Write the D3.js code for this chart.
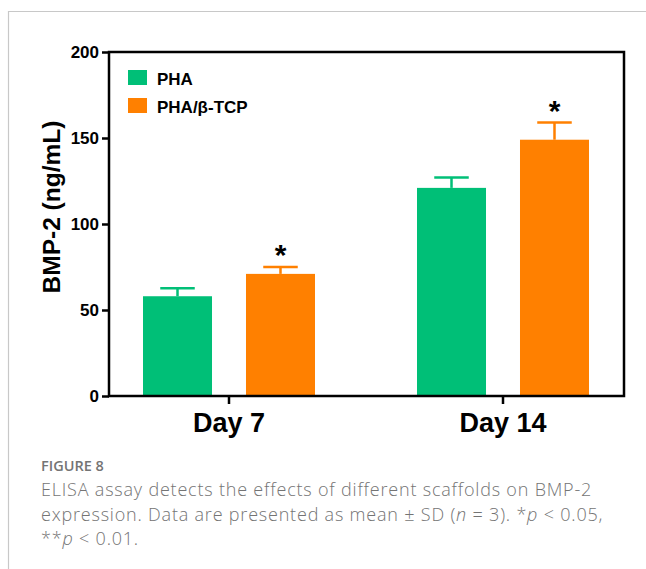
<!DOCTYPE html>
<html>
<head>
<meta charset="utf-8">
<script src="https://cdn.jsdelivr.net/npm/d3@7"></script>
<style>
  body { margin: 0; background: #fff; }
  svg text { font-family: "Liberation Sans", Arial, sans-serif; }
  .caption text { font-family: "Open Sans", sans-serif; }
</style>
</head>
<body>
<div id="container"></div>
<script>
/* DATA */
const days = ["Day 7", "Day 14"],
  groups = ["PHA", "PHA/β-TCP"],
  phaMean = [58, 121],
  phaSD = [4.7, 6],
  tcpMean = [71, 149],
  tcpSD = [4, 10],
  signif = ["*", "*"],
  yTicks = [0, 50, 100, 150, 200];

/* CONSTANTS */
const width = 646,
  height = 569,
  plotLeft = 109, plotRight = 624,
  plotTop = 52, plotBottom = 396;

const colors = { "PHA": "#00bf77", "PHA/β-TCP": "#ff8000" };

const data = days.flatMap((d, i) => [
  { day: d, group: groups[0], mean: phaMean[i], sd: phaSD[i], star: "" },
  { day: d, group: groups[1], mean: tcpMean[i], sd: tcpSD[i], star: signif[i] }
]);

const svg = d3.select("#container")
  .append("svg")
  .attr("width", width)
  .attr("height", height);

// card border
svg.append("line").attr("x1", 8).attr("x2", width).attr("y1", 11.5).attr("y2", 11.5)
  .attr("stroke", "#c8c8c8").attr("stroke-width", 1.2);
svg.append("line").attr("x1", 8.5).attr("x2", 8.5).attr("y1", 11).attr("y2", height)
  .attr("stroke", "#c8c8c8").attr("stroke-width", 1.2);

/* SCALES */
const xScale = d3.scaleBand()
  .domain(days)
  .range([92, 640]);

const xSub = d3.scaleBand()
  .domain(groups)
  .range([-86, 86])
  .paddingInner(0.33);

const yScale = d3.scaleLinear()
  .domain([0, 200])
  .range([plotBottom, plotTop]);

const cx = d => xScale(d.day) + xScale.bandwidth() / 2;

/* BARS */
svg.selectAll(".bar")
  .data(data)
  .join("rect")
  .attr("class", "bar")
  .attr("x", d => cx(d) + xSub(d.group))
  .attr("y", d => yScale(d.mean))
  .attr("width", xSub.bandwidth())
  .attr("height", d => yScale(0) - yScale(d.mean))
  .attr("fill", d => colors[d.group]);

// error bars
const err = svg.selectAll(".err")
  .data(data)
  .join("g")
  .attr("class", "err")
  .attr("stroke", d => colors[d.group])
  .attr("stroke-width", 2.5);

err.append("line")
  .attr("x1", d => cx(d) + xSub(d.group) + xSub.bandwidth() / 2)
  .attr("x2", d => cx(d) + xSub(d.group) + xSub.bandwidth() / 2)
  .attr("y1", d => yScale(d.mean))
  .attr("y2", d => yScale(d.mean + d.sd));

err.append("line")
  .attr("x1", d => cx(d) + xSub(d.group) + xSub.bandwidth() / 4)
  .attr("x2", d => cx(d) + xSub(d.group) + xSub.bandwidth() * 3 / 4)
  .attr("y1", d => yScale(d.mean + d.sd))
  .attr("y2", d => yScale(d.mean + d.sd));

// significance stars
svg.selectAll(".star")
  .data(data.filter(d => d.star))
  .join("text")
  .attr("class", "star")
  .attr("x", d => cx(d) + xSub(d.group) + xSub.bandwidth() / 2)
  .attr("y", d => yScale(d.mean + d.sd) - 2)
  .attr("text-anchor", "middle")
  .style("font-size", "30px")
  .style("font-weight", "bold")
  .text(d => d.star);

/* AXES */
svg.append("rect")
  .attr("x", plotLeft).attr("y", plotTop)
  .attr("width", plotRight - plotLeft).attr("height", plotBottom - plotTop)
  .attr("fill", "none")
  .attr("stroke", "#000")
  .attr("stroke-width", 2.5);

svg.append("g")
  .attr("transform", `translate(${plotLeft},0)`)
  .call(d3.axisLeft(yScale).tickValues(yTicks).tickSize(7).tickPadding(3))
  .call(g => g.select(".domain").remove())
  .call(g => g.selectAll("line").attr("stroke", "#000").attr("stroke-width", 2.5))
  .call(g => g.selectAll("text")
    .style("font-size", "17px").style("font-weight", "bold").attr("fill", "#000"));

svg.append("g")
  .attr("transform", `translate(0,${plotBottom})`)
  .call(d3.axisBottom(xScale).tickSize(8).tickPadding(9))
  .call(g => g.select(".domain").remove())
  .call(g => g.selectAll("line").attr("stroke", "#000").attr("stroke-width", 2.5))
  .call(g => g.selectAll("text")
    .style("font-size", "27px").style("font-weight", "bold").attr("fill", "#000"));

svg.append("text")
  .attr("transform", "translate(60,207) rotate(-90)")
  .attr("text-anchor", "middle")
  .style("font-size", "24.5px")
  .style("font-weight", "bold")
  .text("BMP-2 (ng/mL)");

/* LEGEND */
const legend = svg.selectAll(".legend")
  .data(groups)
  .join("g")
  .attr("class", "legend")
  .attr("transform", (d, i) => `translate(128,${70 + i * 28})`);

legend.append("rect")
  .attr("width", 19).attr("height", 15)
  .attr("fill", d => colors[d]);

legend.append("text")
  .attr("x", 29).attr("y", 15)
  .style("font-size", "17px").style("font-weight", "bold")
  .text(d => d);

/* CAPTION */
const cap = svg.append("g").attr("class", "caption").attr("fill", "#747474");

cap.append("text")
  .attr("x", 41).attr("y", 471)
  .style("font-size", "14.5px").style("font-weight", 600)
  .text("FIGURE 8");

const fs = "18px", ls = "0.8px";

const line1 = cap.append("text").attr("x", 41).attr("y", 496).style("font-size", fs).style("letter-spacing", ls).style("font-weight", 300);
line1.text("ELISA assay detects the effects of different scaffolds on BMP-2");

const line2 = cap.append("text").attr("x", 41).attr("y", 520.5).style("font-size", fs).style("letter-spacing", ls).style("font-weight", 300);
line2.append("tspan").text("expression. Data are presented as mean ± SD (");
line2.append("tspan").style("font-style", "italic").text("n");
line2.append("tspan").text(" = 3). *");
line2.append("tspan").style("font-style", "italic").text("p");
line2.append("tspan").text(" < 0.05,");

const line3 = cap.append("text").attr("x", 41).attr("y", 545).style("font-size", fs).style("letter-spacing", ls).style("font-weight", 300);
line3.append("tspan").text("**");
line3.append("tspan").style("font-style", "italic").text("p");
line3.append("tspan").text(" < 0.01.");
</script>
</body>
</html>
